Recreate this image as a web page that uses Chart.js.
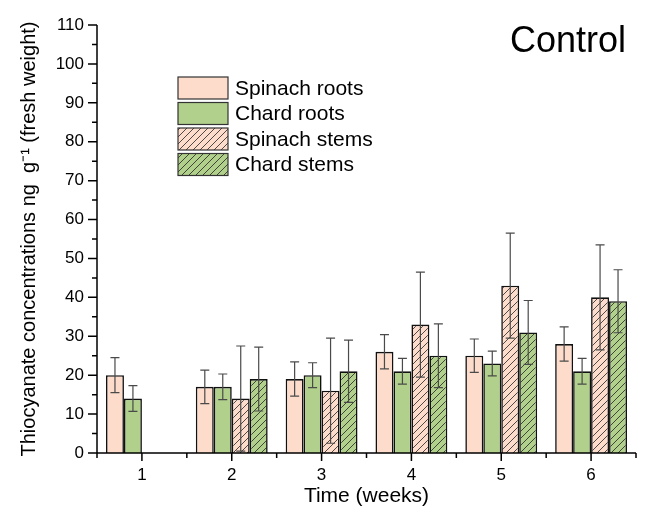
<!DOCTYPE html>
<html>
<head>
<meta charset="utf-8">
<script src="https://cdn.jsdelivr.net/npm/chart.js@4"></script>
<style>
  html, body { margin: 0; padding: 0; background: #fff; }
</style>
</head>
<body>
<canvas id="chart" width="652" height="507"></canvas>
<script>
// data (means and +/- error)
const weeks = ['1', '2', '3', '4', '5', '6'];
const seriesNames = ['Spinach roots', 'Chard roots', 'Spinach stems', 'Chard stems'];
const spinachRoots = [20, 17, 19, 26, 25, 28];
const spinachRootsErr = [4.5, 4.3, 4.4, 4.4, 4.3, 4.4];
const chardRoots = [14, 17, 20, 21, 23, 21];
const chardRootsErr = [3.3, 3.3, 3.2, 3.3, 3.2, 3.3];
const spinachStems = [null, 14, 16, 33, 43, 40];
const spinachStemsErr = [null, 13.5, 13.5, 13.5, 13.5, 13.5];
const chardStems = [null, 19, 21, 25, 31, 39];
const chardStemsErr = [null, 8.2, 8, 8.2, 8.2, 8.1];
const yTicks = [0, 10, 20, 30, 40, 50, 60, 70, 80, 90, 100, 110];

const errors = [spinachRootsErr, chardRootsErr, spinachStemsErr, chardStemsErr];
const peach = '#fddccb';
const green = '#b0d08b';
const FONT = "Arial, 'Liberation Sans', sans-serif";

const canvas = document.getElementById('chart');
const ctx = canvas.getContext('2d');

function hatch(bg) {
    const c = document.createElement('canvas');
    c.width = 7;
    c.height = 7;
    const g = c.getContext('2d');
    g.fillStyle = bg;
    g.fillRect(0, 0, 7, 7);
    g.strokeStyle = '#222';
    g.lineWidth = 0.8;
    g.beginPath();
    g.moveTo(-1, 8); g.lineTo(8, -1);
    g.moveTo(-2, 2); g.lineTo(2, -2);
    g.moveTo(5, 9); g.lineTo(9, 5);
    g.stroke();
    return ctx.createPattern(c, 'repeat');
}

const fills = [peach, green, hatch(peach), hatch(green)];

// error bars, axis lines, tick marks, legend, panel title
const decorations = {
    id: 'decorations',
    afterDatasetsDraw(chart) {
        const c = chart.ctx;
        const y = chart.scales.y;
        c.save();
        c.strokeStyle = '#4a4a4a';
        c.lineWidth = 1.2;
        chart.data.datasets.forEach((ds, i) => {
            chart.getDatasetMeta(i).data.forEach((bar, j) => {
                const v = ds.data[j];
                const e = errors[i][j];
                if (v == null || e == null) return;
                const top = y.getPixelForValue(v + e);
                const bot = y.getPixelForValue(v - e);
                c.beginPath();
                c.moveTo(bar.x, top); c.lineTo(bar.x, bot);
                c.moveTo(bar.x - 4.5, top); c.lineTo(bar.x + 4.5, top);
                c.moveTo(bar.x - 4.5, bot); c.lineTo(bar.x + 4.5, bot);
                c.stroke();
            });
        });
        c.restore();
    },
    afterDraw(chart) {
        const c = chart.ctx;
        const {x, y} = chart.scales;
        const area = chart.chartArea;
        const y0 = y.getPixelForValue(0);
        c.save();
        c.strokeStyle = '#000';
        c.lineWidth = 1.5;
        c.beginPath();
        c.moveTo(area.left, y.getPixelForValue(110));
        c.lineTo(area.left, y0);
        c.lineTo(area.right, y0);
        // y ticks (major every 10, minor every 5)
        for (let v = 0; v <= 110; v += 5) {
            const py = y.getPixelForValue(v);
            const len = v % 10 === 0 ? 9 : 5;
            c.moveTo(area.left - len, py);
            c.lineTo(area.left, py);
        }
        // x ticks (major at categories, minor in between)
        weeks.forEach((w, i) => {
            const px = x.getPixelForValue(i);
            c.moveTo(px, y0); c.lineTo(px, y0 + 8);
        });
        for (let i = -0.5; i <= weeks.length - 0.5; i += 1) {
            const px = x.getPixelForValue(i);
            c.moveTo(px, y0); c.lineTo(px, y0 + 5);
        }
        c.stroke();

        // legend
        const boxX = 178, boxW = 50, boxH = 22, rowStep = 25.5, top0 = 77;
        seriesNames.forEach((name, i) => {
            const by = top0 + i * rowStep;
            c.fillStyle = fills[i];
            c.fillRect(boxX, by, boxW, boxH);
            c.strokeStyle = '#333';
            c.lineWidth = 1.2;
            c.strokeRect(boxX, by, boxW, boxH);
            c.fillStyle = '#000';
            c.font = '21px ' + FONT;
            c.textBaseline = 'middle';
            c.textAlign = 'left';
            c.fillText(name, 235, by + boxH / 2 + 1);
        });

        // panel title
        c.font = '36px ' + FONT;
        c.textAlign = 'right';
        c.textBaseline = 'alphabetic';
        c.fillStyle = '#000';
        c.fillText('Control', 626, 52);
        c.restore();
    }
};

new Chart(ctx, {
    type: 'bar',
    data: {
        labels: weeks,
        datasets: [
            { label: seriesNames[0], data: spinachRoots, backgroundColor: fills[0] },
            { label: seriesNames[1], data: chardRoots, backgroundColor: fills[1] },
            { label: seriesNames[2], data: spinachStems, backgroundColor: fills[2] },
            { label: seriesNames[3], data: chardStems, backgroundColor: fills[3] }
        ].map(ds => Object.assign(ds, {
            borderColor: '#111',
            borderWidth: 1.6,
            categoryPercentage: 0.8,
            barPercentage: 1.0
        }))
    },
    options: {
        responsive: false,
        animation: false,
        devicePixelRatio: 1,
        layout: { padding: { left: 17, right: 16, top: 25, bottom: 0 } },
        plugins: {
            legend: { display: false },
            tooltip: { enabled: false }
        },
        scales: {
            x: {
                grid: { display: false, drawTicks: false },
                border: { display: false },
                ticks: { color: '#000', font: { family: FONT, size: 17 }, padding: 12 },
                title: {
                    display: true,
                    text: 'Time (weeks)',
                    color: '#000',
                    font: { family: FONT, size: 21, lineHeight: 1.0 },
                    padding: { top: 0, bottom: 0 }
                },
                afterFit(scale) { scale.height = 54; }
            },
            y: {
                min: 0,
                max: 110,
                grid: { display: false, drawTicks: false },
                border: { display: false },
                afterBuildTicks(scale) { scale.ticks = yTicks.map(v => ({ value: v })); },
                ticks: { color: '#000', font: { family: FONT, size: 17 }, padding: 13 },
                title: {
                    display: true,
                    text: 'Thiocyanate concentrations ng  g\u207B\u00B9 (fresh weight)',
                    color: '#000',
                    font: { family: FONT, size: 20 },
                    padding: { top: 0, bottom: 4 }
                },
                afterFit(scale) { scale.width = 80; }
            }
        }
    },
    plugins: [decorations]
});
</script>
</body>
</html>
